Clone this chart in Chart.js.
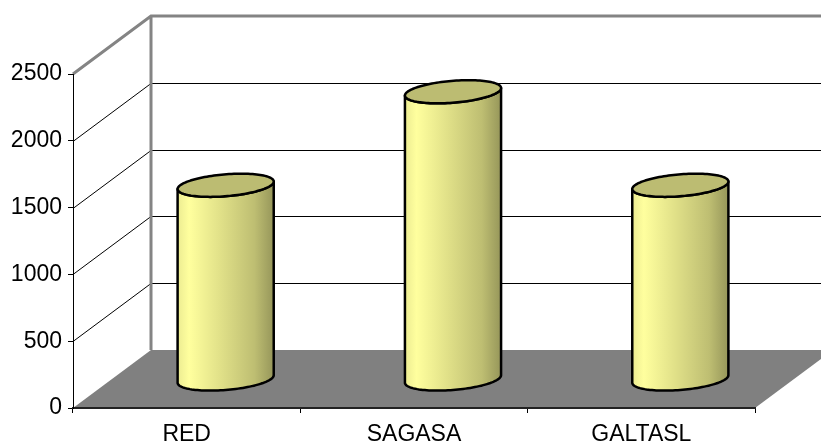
<!DOCTYPE html>
<html>
<head>
<meta charset="utf-8">
<title>Cylinders</title>
<script src="https://cdn.jsdelivr.net/npm/chart.js@4"></script>
<style>
  html, body { margin: 0; padding: 0; background: #fff; }
  #wrap { width: 821px; height: 445px; position: relative; }
</style>
</head>
<body>
<div id="wrap"><canvas id="chart"></canvas></div>
<script>
// Chart values
const categories = ['RED', 'SAGASA', 'GALTASL'];
const values = [1450, 2150, 1450];
const yTicks = [0, 500, 1000, 1500, 2000, 2500];

// Oblique depth of the 3D box (front plane -> back wall)
const DEPTH_X = 78;
const DEPTH_Y = 58;
const FONT = 'Arial, "Liberation Sans", sans-serif';

// Walls, floor and back gridlines, painted before the axes
const walls3d = {
  id: 'walls3d',
  beforeDraw(chart) {
    const { ctx, chartArea: a, scales: { y } } = chart;
    const y0 = y.getPixelForValue(yTicks[0]);
    const yTop = y.getPixelForValue(yTicks[yTicks.length - 1]);
    const W = chart.width;

    ctx.save();
    // floor
    ctx.fillStyle = '#808080';
    ctx.beginPath();
    ctx.moveTo(a.left, y0);
    ctx.lineTo(a.left + DEPTH_X, y0 - DEPTH_Y);
    ctx.lineTo(a.right + DEPTH_X, y0 - DEPTH_Y);
    ctx.lineTo(a.right, y0);
    ctx.closePath();
    ctx.fill();

    // gridlines on side wall and back wall
    ctx.strokeStyle = '#000';
    ctx.lineWidth = 1;
    yTicks.slice(1, -1).forEach(v => {
      const py = Math.round(y.getPixelForValue(v)) + 0.5;
      ctx.beginPath();
      ctx.moveTo(a.left, py);
      ctx.lineTo(a.left + DEPTH_X, py - DEPTH_Y);
      ctx.lineTo(W, py - DEPTH_Y);
      ctx.stroke();
    });

    // grey wall edges
    ctx.strokeStyle = '#848484';
    ctx.lineWidth = 3;
    ctx.lineJoin = 'miter';
    ctx.beginPath();
    ctx.moveTo(a.left, yTop);
    ctx.lineTo(a.left + DEPTH_X, yTop - DEPTH_Y);
    ctx.lineTo(W, yTop - DEPTH_Y);
    ctx.moveTo(a.left + DEPTH_X, yTop - DEPTH_Y);
    ctx.lineTo(a.left + DEPTH_X, y0 - DEPTH_Y);
    ctx.stroke();
    ctx.restore();
  }
};

// Cylinders standing at mid depth
const cylinders = {
  id: 'cylinders',
  afterDatasetsDraw(chart) {
    const { ctx, scales: { x, y } } = chart;
    const catW = x.getPixelForValue(1) - x.getPixelForValue(0);
    const dLen = Math.hypot(DEPTH_X, DEPTH_Y);
    const ux = DEPTH_X / dLen, uy = -DEPTH_Y / dLen;
    const R = catW * 0.2;        // radius across
    const d = dLen * 0.2;        // radius in depth
    const bx = d * ux, by = d * uy;
    const t0 = Math.atan2(bx, R); // angle of right-most point

    const pt = (cx, cy, t) => [cx + R * Math.cos(t) + bx * Math.sin(t), cy + by * Math.sin(t)];

    values.forEach((v, i) => {
      const cx = x.getPixelForValue(i) + DEPTH_X / 2;
      const cBase = y.getPixelForValue(0) - DEPTH_Y / 2;
      const cTop = y.getPixelForValue(v) - DEPTH_Y / 2;
      const half = Math.hypot(R, bx);
      const N = 60;

      // body: front half of base, up the right side, front half of top back to the left
      ctx.save();
      ctx.beginPath();
      for (let k = 0; k <= N; k++) {
        const t = t0 + Math.PI + Math.PI * k / N;
        const [px, py] = pt(cx, cBase, t);
        k === 0 ? ctx.moveTo(px, py) : ctx.lineTo(px, py);
      }
      for (let k = N; k >= 0; k--) {
        const t = t0 + Math.PI + Math.PI * k / N;
        const [px, py] = pt(cx, cTop, t);
        ctx.lineTo(px, py);
      }
      ctx.closePath();
      const g = ctx.createLinearGradient(cx - half, 0, cx + half, 0);
      g.addColorStop(0, '#ecec92');
      g.addColorStop(0.12, '#ffff9e');
      g.addColorStop(0.45, '#e0e088');
      g.addColorStop(0.8, '#bebe72');
      g.addColorStop(1, '#96965a');
      ctx.fillStyle = g;
      ctx.fill();
      ctx.strokeStyle = '#000';
      ctx.lineWidth = 2.5;
      ctx.lineJoin = 'round';
      ctx.stroke();

      // top cap
      ctx.beginPath();
      for (let k = 0; k <= N * 2; k++) {
        const t = Math.PI * k / N;
        const [px, py] = pt(cx, cTop, t);
        k === 0 ? ctx.moveTo(px, py) : ctx.lineTo(px, py);
      }
      ctx.closePath();
      ctx.fillStyle = '#bcbc72';
      ctx.fill();
      ctx.stroke();
      ctx.restore();
    });
  }
};

new Chart(document.getElementById('chart'), {
  type: 'bar',
  data: {
    labels: categories,
    datasets: [{
      data: values,
      backgroundColor: 'rgba(0,0,0,0)',
      borderWidth: 0
    }]
  },
  options: {
    responsive: true,
    maintainAspectRatio: false,
    animation: false,
    layout: { padding: { top: 74, right: 66, left: 0, bottom: 0 } },
    plugins: {
      legend: { display: false },
      tooltip: { enabled: false }
    },
    scales: {
      x: {
        grid: { offset: true, drawOnChartArea: false, tickLength: 5, color: '#000' },
        border: { display: true, color: '#222', width: 2 },
        ticks: { color: '#000', font: { family: FONT, size: 23 }, padding: 8 },
        afterFit: s => { s.height = 37; }
      },
      y: {
        min: yTicks[0],
        max: yTicks[yTicks.length - 1],
        grid: { drawOnChartArea: false, tickLength: 5, color: '#000' },
        border: { display: true, color: '#000', width: 1 },
        ticks: {
          stepSize: yTicks[1] - yTicks[0],
          color: '#000',
          font: { family: FONT, size: 23 },
          padding: 6,
          callback: v => String(v)
        },
        afterFit: s => { s.width = 73; }
      }
    }
  },
  plugins: [walls3d, cylinders]
});
</script>
</body>
</html>
